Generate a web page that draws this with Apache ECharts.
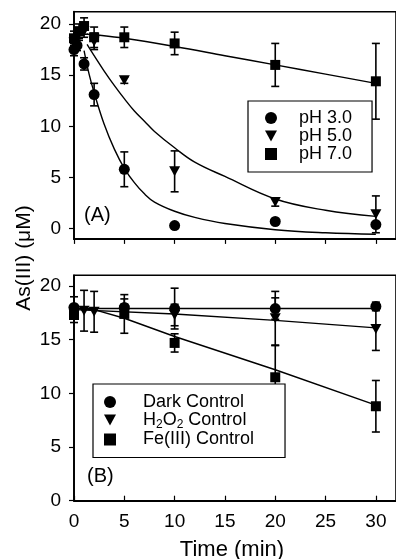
<!DOCTYPE html>
<html>
<head>
<meta charset="utf-8">
<script src="https://cdn.jsdelivr.net/npm/echarts@6/dist/echarts.min.js"></script>
<style>
  html, body { margin: 0; padding: 0; background: #fff; }
  #chart { width: 396px; height: 559px; }
</style>
</head>
<body>
<div id="chart"></div>
<script>
// panel A: As(III) vs time at three pH values
const tA = [0, 0.3, 1, 2, 5, 10, 20, 30];
const ph3 = [17.5, 17.9, 16.1, 13.1, 5.8, 0.3, 0.7, 0.4];
const ph3Err = [0.6, 0.5, 0.6, 1.1, 1.7, 0, 0, 0];
const tA5 = [0, 0.5, 1, 2, 5, 10, 20, 30];
const ph5 = [18.2, 19.0, 19.3, 18.3, 14.5, 5.6, 2.6, 1.4];
const ph5Err = [0.5, 0.6, 0.6, 0.8, 0.3, 2.0, 0.4, 1.8];
const tA7 = [0, 0.5, 1, 2, 5, 10, 20, 30];
const ph7 = [18.6, 19.3, 19.8, 18.7, 18.7, 18.1, 16.0, 14.4];
const ph7Err = [0.7, 0.7, 0.8, 1.0, 1.0, 1.1, 2.1, 3.7];

// fitted curves
const fit3T = [1, 1.5, 2, 3, 4, 5, 6, 7, 8, 10, 12, 15, 20, 25, 30];
const fit3 = [17.4, 15.1, 13.3, 10.2, 7.8, 5.9, 4.5, 3.4, 2.6, 1.7, 1.1, 0.5, -0.1, -0.4, -0.55];
const fit5T = [1.3, 2, 3, 4, 5, 6, 7, 8, 10, 12, 15, 20, 25, 30];
const fit5 = [18.0, 16.9, 15.4, 14.0, 12.7, 11.5, 10.5, 9.5, 7.9, 6.5, 5.1, 2.9, 1.8, 1.2];
const fit7T = [1.3, 2, 5, 10, 15, 20, 25, 30];
const fit7 = [19.0, 18.95, 18.6, 17.8, 16.9, 16.0, 15.1, 14.2];

// panel B: controls
const tDark = [0, 5, 10, 20, 30];
const dark = [18.0, 18.0, 17.9, 17.9, 18.1];
const darkErr = [1.0, 0.8, 1.9, 1.0, 0.4];
const tH2o2 = [0, 1, 2, 5, 10, 20, 30];
const h2o2 = [17.6, 17.7, 17.6, 17.7, 17.3, 17.0, 16.0];
const h2o2Err = [0.6, 1.9, 1.9, 0.6, 1.0, 2.5, 2.0];
const tFe = [0, 5, 10, 20, 30];
const fe = [17.3, 17.4, 14.7, 11.5, 8.8];
const feErr = [0.7, 1.8, 0.85, 2.95, 2.4];

const darkFitT = [0, 30];
const darkFit = [17.9, 17.9];
const h2o2FitT = [0, 10, 20, 30];
const h2o2Fit = [17.8, 17.4, 16.8, 16.1];
const feFitT = [0, 2, 5, 10, 20, 30];
const feFit = [17.9, 17.8, 17.0, 15.3, 12.2, 8.9];

const xTicks = [0, 5, 10, 15, 20, 25, 30];
const yTicks = [0, 5, 10, 15, 20];

const FONT = 'Liberation Sans';
const TRI = 'path://M0,0L10,0L5,9Z';

const zip = (xs, ys) => xs.map((x, i) => [x, ys[i]]);
const errData = (xs, ys, es) =>
  xs.map((x, i) => [x, ys[i] - es[i], ys[i] + es[i]]).filter((d, i) => es[i] > 0);

function errSeries(xs, ys, es, idx) {
  return {
    type: 'custom',
    xAxisIndex: idx,
    yAxisIndex: idx,
    z: 3,
    data: errData(xs, ys, es),
    renderItem: (params, api) => {
      const lo = api.coord([api.value(0), api.value(1)]);
      const hi = api.coord([api.value(0), api.value(2)]);
      const w = 4;
      const st = { stroke: '#000', lineWidth: 1.6 };
      return {
        type: 'group',
        children: [
          { type: 'line', shape: { x1: lo[0], y1: lo[1], x2: hi[0], y2: hi[1] }, style: st },
          { type: 'line', shape: { x1: lo[0] - w, y1: lo[1], x2: lo[0] + w, y2: lo[1] }, style: st },
          { type: 'line', shape: { x1: hi[0] - w, y1: hi[1], x2: hi[0] + w, y2: hi[1] }, style: st },
        ],
      };
    },
  };
}

function pts(name, xs, ys, symbol, size, idx) {
  return {
    name,
    type: 'scatter',
    xAxisIndex: idx,
    yAxisIndex: idx,
    symbol,
    symbolSize: size,
    itemStyle: { color: '#000', opacity: 1 },
    z: 4,
    data: zip(xs, ys),
  };
}

function fitLine(xs, ys, idx, smooth) {
  return {
    type: 'line',
    xAxisIndex: idx,
    yAxisIndex: idx,
    showSymbol: false,
    smooth: smooth ? 0.4 : false,
    lineStyle: { color: '#000', width: 1.4 },
    z: 2,
    silent: true,
    data: zip(xs, ys),
  };
}

const axisLine = { show: true, onZero: false, lineStyle: { color: '#000', width: 1.8 } };
const labelStyle = { color: '#000', fontSize: 19, fontFamily: FONT };

const chart = echarts.init(document.getElementById('chart'));
chart.setOption({
  backgroundColor: '#fff',
  animation: false,
  textStyle: { fontFamily: FONT },
  grid: [
    { left: 74, top: 11.7, width: 334, height: 227.2, show: true, borderColor: '#000', borderWidth: 1.6 },
    { left: 74, top: 275.3, width: 334, height: 225.4, show: true, borderColor: '#000', borderWidth: 1.6 },
  ],
  xAxis: [
    {
      gridIndex: 0, type: 'value', min: 0, max: 32,
      axisLine,
      axisTick: { show: true, inside: false, length: 5, customValues: xTicks, lineStyle: { color: '#000', width: 1.2 } },
      axisLabel: { show: false, customValues: xTicks },
      splitLine: { show: false },
    },
    {
      gridIndex: 1, type: 'value', min: 0, max: 32,
      axisLine,
      axisTick: { show: true, inside: true, length: 5, customValues: xTicks, lineStyle: { color: '#000', width: 1.2 } },
      axisLabel: { ...labelStyle, margin: 12, customValues: xTicks },
      splitLine: { show: false },
    },
  ],
  yAxis: [
    {
      gridIndex: 0, type: 'value', min: -1, max: 21.2,
      axisLine,
      axisTick: { show: true, length: 5, customValues: yTicks, lineStyle: { color: '#000', width: 1.2 } },
      axisLabel: { ...labelStyle, margin: 13, customValues: yTicks },
      splitLine: { show: false },
    },
    {
      gridIndex: 1, type: 'value', min: 0, max: 21, interval: 5,
      axisLine,
      axisTick: { show: true, length: 5, lineStyle: { color: '#000', width: 1.2 } },
      axisLabel: { ...labelStyle, margin: 13 },
      splitLine: { show: false },
    },
  ],
  legend: [
    {
      data: [
        { name: 'pH 3.0', icon: 'circle' },
        { name: 'pH 5.0', icon: TRI },
        { name: 'pH 7.0', icon: 'rect' },
      ],
      orient: 'vertical',
      left: 248, top: 101,
      padding: [8, 20, 9, 17],
      itemGap: 0,
      itemWidth: 12, itemHeight: 12,
      borderColor: '#000', borderWidth: 1.2,
      backgroundColor: '#fff',
      selectedMode: false,
      textStyle: { color: '#000', fontSize: 18, lineHeight: 18, fontFamily: FONT, padding: [0, 0, 0, 17] },
    },
    {
      data: [
        { name: 'Dark Control', icon: 'circle' },
        { name: 'H2O2 Control', icon: TRI },
        { name: 'Fe(III) Control', icon: 'rect' },
      ],
      orient: 'vertical',
      left: 93, top: 384,
      padding: [9, 31, 9, 11],
      itemGap: 0,
      itemWidth: 12, itemHeight: 12,
      borderColor: '#000', borderWidth: 1.2,
      backgroundColor: '#fff',
      selectedMode: false,
      formatter: (name) => (name === 'H2O2 Control' ? 'H{sub|2}O{sub|2} Control' : name),
      textStyle: {
        color: '#000', fontSize: 18, lineHeight: 17.5, fontFamily: FONT, padding: [0, 0, 0, 22],
        rich: { sub: { fontSize: 12, fontFamily: FONT, color: '#000', padding: [9, 0, 0, 0] } },
      },
    },
  ],
  graphic: [
    { type: 'text', left: 84, top: 205, style: { text: '(A)', font: '20px "Liberation Sans"', fill: '#000' } },
    { type: 'text', left: 87, top: 466, style: { text: '(B)', font: '20px "Liberation Sans"', fill: '#000' } },
    {
      type: 'text', x: 24, y: 258, rotation: Math.PI / 2,
      style: { text: 'As(III) (μM)', font: '21px "Liberation Sans"', fill: '#000', align: 'center', verticalAlign: 'middle' },
    },
    {
      type: 'text', x: 232, y: 550,
      style: { text: 'Time (min)', font: '22px "Liberation Sans"', fill: '#000', align: 'center', verticalAlign: 'middle' },
    },
  ],
  series: [
    fitLine(fit3T, fit3, 0, true),
    fitLine(fit5T, fit5, 0, true),
    fitLine(fit7T, fit7, 0, true),
    errSeries(tA, ph3, ph3Err, 0),
    errSeries(tA5, ph5, ph5Err, 0),
    errSeries(tA7, ph7, ph7Err, 0),
    pts('pH 3.0', tA, ph3, 'circle', 11, 0),
    pts('pH 5.0', tA5, ph5, TRI, [11, 10], 0),
    pts('pH 7.0', tA7, ph7, 'rect', 10, 0),

    fitLine(darkFitT, darkFit, 1, false),
    fitLine(h2o2FitT, h2o2Fit, 1, false),
    fitLine(feFitT, feFit, 1, false),
    errSeries(tDark, dark, darkErr, 1),
    errSeries(tH2o2, h2o2, h2o2Err, 1),
    errSeries(tFe, fe, feErr, 1),
    pts('Dark Control', tDark, dark, 'circle', 11, 1),
    pts('H2O2 Control', tH2o2, h2o2, TRI, [11, 10], 1),
    pts('Fe(III) Control', tFe, fe, 'rect', 10, 1),
  ],
});
</script>
</body>
</html>
